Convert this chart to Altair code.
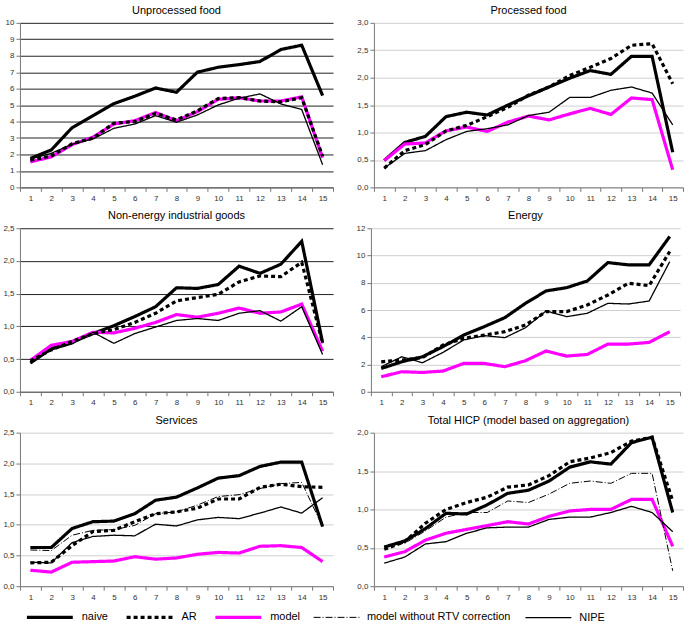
import altair as alt
import pandas as pd

# Forecast horizon (months ahead)
periods = list(range(1, 16))

series_order = ["naive", "AR", "model", "model without RTV correction", "NIPE"]
series_colors = ["#000000", "#000000", "#FF00FF", "#000000", "#000000"]
series_dash = [[1, 0], [4, 3], [1, 0], [7, 2, 1, 2], [1, 0]]
series_width = [3.2, 3.2, 3.2, 1, 1.3]

# Unprocessed food
unproc_naive = [1.76, 2.27, 3.63, 4.36, 5.09, 5.54, 6.04, 5.78, 7.0, 7.30, 7.46, 7.65, 8.38, 8.64, 5.58]
unproc_ar = [1.65, 1.9, 2.65, 3.0, 3.9, 4.0, 4.5, 4.1, 4.65, 5.4, 5.45, 5.25, 5.2, 5.45, 1.9]
unproc_model = [1.55, 1.85, 2.6, 3.05, 3.85, 4.05, 4.55, 4.05, 4.6, 5.35, 5.45, 5.25, 5.25, 5.5, 1.8]
unproc_nipe = [1.72, 2.07, 2.62, 2.94, 3.59, 3.85, 4.36, 3.96, 4.4, 5.01, 5.42, 5.68, 5.07, 4.73, 1.38]

# Processed food
proc_naive = [0.49, 0.82, 0.93, 1.29, 1.37, 1.32, 1.50, 1.67, 1.83, 1.99, 2.13, 2.06, 2.39, 2.39, 0.64]
proc_ar = [0.35, 0.67, 0.78, 1.03, 1.13, 1.29, 1.46, 1.68, 1.83, 2.04, 2.19, 2.35, 2.59, 2.62, 1.89]
proc_model = [0.49, 0.79, 0.81, 1.03, 1.10, 1.02, 1.19, 1.30, 1.23, 1.34, 1.44, 1.33, 1.63, 1.60, 0.32]
proc_nipe = [0.35, 0.62, 0.67, 0.87, 1.02, 1.07, 1.14, 1.31, 1.37, 1.64, 1.64, 1.77, 1.83, 1.72, 1.14]

# Non-energy industrial goods
neig_naive = [0.44, 0.66, 0.76, 0.89, 1.01, 1.15, 1.30, 1.59, 1.58, 1.64, 1.92, 1.81, 1.95, 2.30, 0.75]
neig_ar = [0.47, 0.64, 0.77, 0.89, 0.95, 1.06, 1.20, 1.39, 1.44, 1.49, 1.68, 1.77, 1.76, 1.98, 0.74]
neig_model = [0.48, 0.71, 0.77, 0.91, 0.90, 0.97, 1.06, 1.18, 1.14, 1.20, 1.28, 1.20, 1.22, 1.34, 0.62]
neig_nipe = [0.44, 0.64, 0.73, 0.91, 0.74, 0.89, 0.99, 1.09, 1.12, 1.09, 1.20, 1.24, 1.08, 1.30, 0.57]

# Energy
energy_naive = [1.71, 2.20, 2.57, 3.31, 4.16, 4.78, 5.44, 6.49, 7.40, 7.64, 8.13, 9.48, 9.31, 9.31, 11.39]
energy_ar = [2.20, 2.33, 2.50, 3.43, 3.92, 4.16, 4.41, 4.90, 5.88, 5.88, 6.37, 7.10, 7.96, 7.79, 10.29]
energy_model = [1.10, 1.47, 1.42, 1.52, 2.08, 2.08, 1.84, 2.28, 2.99, 2.62, 2.74, 3.50, 3.50, 3.62, 4.41]
energy_nipe = [1.84, 2.57, 2.13, 2.89, 3.80, 4.12, 3.97, 4.70, 5.93, 5.51, 5.76, 6.49, 6.44, 6.66, 9.55]

# Services
serv_naive = [0.63, 0.63, 0.94, 1.05, 1.06, 1.18, 1.40, 1.45, 1.60, 1.76, 1.80, 1.95, 2.02, 2.02, 0.97]
serv_ar = [0.38, 0.39, 0.66, 0.89, 0.91, 1.05, 1.18, 1.21, 1.27, 1.42, 1.42, 1.61, 1.66, 1.62, 1.61]
serv_model = [0.26, 0.23, 0.39, 0.40, 0.41, 0.48, 0.44, 0.46, 0.52, 0.55, 0.54, 0.65, 0.66, 0.63, 0.40]
serv_nortv = [0.59, 0.58, 0.83, 0.91, 0.92, 0.99, 1.18, 1.21, 1.32, 1.46, 1.49, 1.59, 1.67, 1.69, 0.97]
serv_nipe = [0.39, 0.38, 0.71, 0.81, 0.83, 0.82, 1.01, 0.98, 1.08, 1.12, 1.10, 1.19, 1.29, 1.19, 1.44]

# Total HICP (model based on aggregation)
hicp_naive = [0.51, 0.59, 0.75, 0.95, 0.94, 1.06, 1.21, 1.25, 1.37, 1.55, 1.62, 1.59, 1.87, 1.94, 0.96]
hicp_ar = [0.48, 0.58, 0.82, 1.00, 1.09, 1.16, 1.29, 1.32, 1.44, 1.62, 1.67, 1.74, 1.89, 1.94, 1.11]
hicp_model = [0.38, 0.45, 0.60, 0.69, 0.74, 0.79, 0.84, 0.81, 0.91, 0.98, 1.00, 1.00, 1.13, 1.13, 0.52]
hicp_nortv = [0.52, 0.56, 0.72, 0.90, 0.96, 0.96, 1.11, 1.09, 1.20, 1.34, 1.37, 1.34, 1.47, 1.47, 0.20]
hicp_nipe = [0.30, 0.38, 0.55, 0.58, 0.69, 0.76, 0.77, 0.77, 0.87, 0.90, 0.90, 0.96, 1.04, 0.96, 0.71]

FONT = "Liberation Sans"


def to_frame(series):
    rows = []
    for name, values in series.items():
        for p, v in zip(periods, values):
            rows.append({"period": p, "value": v, "series": name})
    return pd.DataFrame(rows)


def panel(title, series, ymax, ystep, grid_color, width, height):
    ticks = []
    t = 0.0
    while t <= ymax + 1e-9:
        ticks.append(round(t, 2))
        t += ystep
    df = to_frame(series)
    return (
        alt.Chart(df, title=alt.Title(title, font=FONT, fontSize=11, fontWeight="normal", offset=3))
        .mark_line(strokeCap="butt", strokeJoin="miter")
        .encode(
            x=alt.X(
                "period:O",
                bandPosition=0.5,
                scale=alt.Scale(type="band", paddingInner=0, paddingOuter=0),
                axis=alt.Axis(title=None, labelAngle=0, tickBand="extent", grid=False,
                              labelPadding=3),
            ),
            y=alt.Y(
                "value:Q",
                scale=alt.Scale(domain=[0, ymax], nice=False, zero=True),
                axis=alt.Axis(title=None, values=ticks, gridColor=grid_color,
                              labelExpr="replace(datum.label, '.', ',')"),
            ),
            color=alt.Color("series:N",
                            scale=alt.Scale(type="ordinal", domain=series_order, range=series_colors),
                            legend=alt.Legend(title=None)),
            strokeDash=alt.StrokeDash("series:N",
                                      scale=alt.Scale(type="ordinal", domain=series_order, range=series_dash),
                                      legend=alt.Legend(title=None)),
            strokeWidth=alt.StrokeWidth("series:N",
                                        scale=alt.Scale(type="ordinal", domain=series_order, range=series_width),
                                        legend=alt.Legend(title=None)),
        )
        .properties(width=width, height=height)
    )


p1 = panel("Unprocessed  food",
           {"naive": unproc_naive, "model": unproc_model, "AR": unproc_ar, "NIPE": unproc_nipe},
           10, 1, "#222222", 314, 165)
p2 = panel("Processed  food",
           {"naive": proc_naive, "model": proc_model, "AR": proc_ar, "NIPE": proc_nipe},
           3, 0.5, "#cfcfcf", 310, 165)
p3 = panel("Non-energy  industrial  goods",
           {"naive": neig_naive, "model": neig_model, "AR": neig_ar, "NIPE": neig_nipe},
           2.5, 0.5, "#222222", 314, 164)
p4 = panel("Energy",
           {"naive": energy_naive, "model": energy_model, "AR": energy_ar, "NIPE": energy_nipe},
           12, 2, "#cfcfcf", 310, 164)
p5 = panel("Services",
           {"naive": serv_naive, "model": serv_model, "AR": serv_ar,
            "model without RTV correction": serv_nortv, "NIPE": serv_nipe},
           2.5, 0.5, "#cfcfcf", 314, 154)
p6 = panel("Total  HICP  (model based on aggregation)",
           {"naive": hicp_naive, "model": hicp_model, "AR": hicp_ar,
            "model without RTV correction": hicp_nortv, "NIPE": hicp_nipe},
           2, 0.5, "#cfcfcf", 310, 154)

chart = (
    alt.vconcat(
        alt.hconcat(p1, p2, spacing=22),
        alt.hconcat(p3, p4, spacing=22),
        alt.hconcat(p5, p6, spacing=22),
        spacing=8,
    )
    .properties(padding={"left": 2, "top": 4, "right": 4, "bottom": 0})
    .configure_view(stroke=None)
    .configure_axis(
        labelFont=FONT, labelFontSize=8, labelColor="#333333",
        domainColor="#777777", tickColor="#777777", tickSize=4,
        gridWidth=1,
    )
    .configure_legend(
        orient="none", legendX=5, legendY=571, direction="horizontal",
        labelFont=FONT, labelFontSize=11,
        labelColor="#000000", symbolType="stroke", symbolSize=2116, columnPadding=11,
        labelOffset=7, symbolOffset=0, padding=0,
    )
)

chart.save("out.html", embed_options={"renderer": "svg", "actions": False})
